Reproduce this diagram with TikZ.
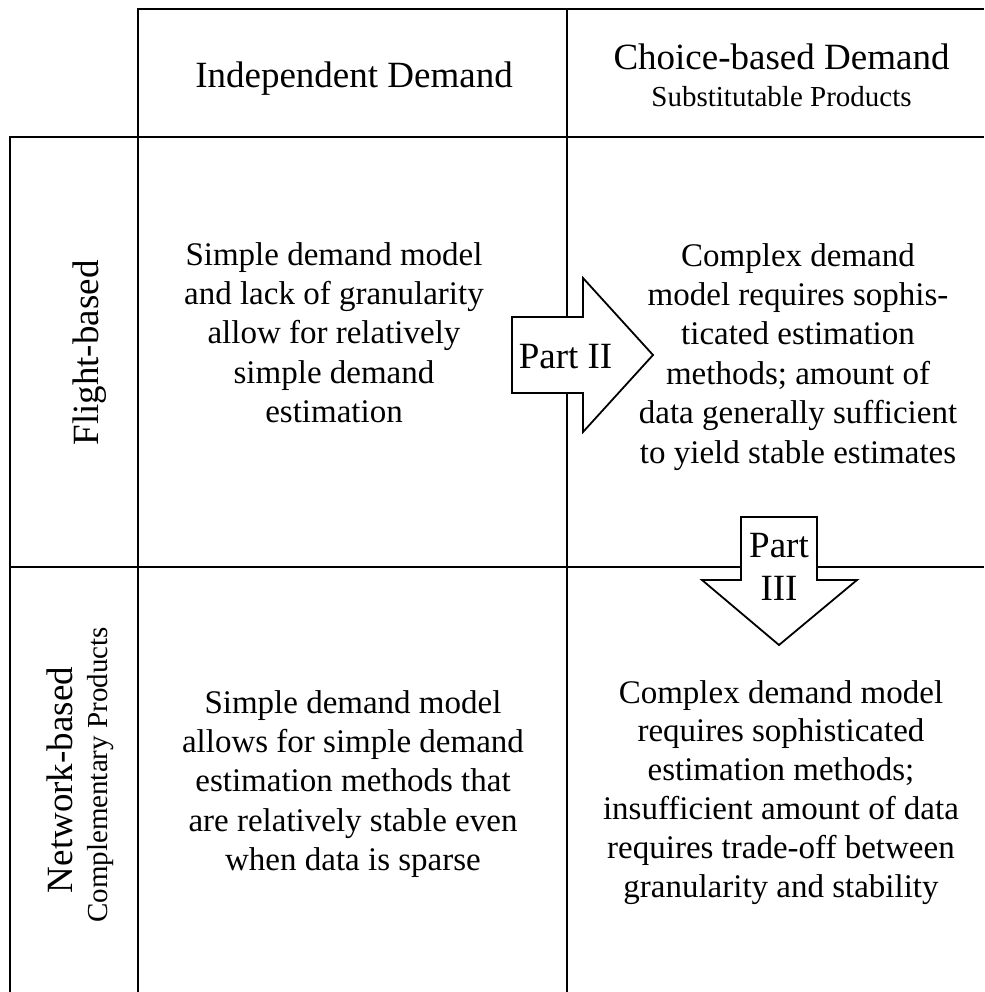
\documentclass[tikz,border=0pt]{standalone}
\usepackage{fontspec}
\setmainfont{Liberation Serif}
\begin{document}
\begin{tikzpicture}[x=1pt,y=-1pt,
  gridline/.style={line width=2.4pt, line join=miter},
  bigarrow/.style={draw, fill=white, line width=1.8pt, line join=miter},
  headtxt/.style={font=\fontsize{37}{44}\selectfont, inner sep=0pt},
  subtxt/.style={font=\fontsize{29}{35}\selectfont, inner sep=0pt},
  bodytxt/.style={font=\fontsize{33}{39.4}\selectfont, inner sep=0pt, align=center, anchor=base}]
\useasboundingbox (0,0) rectangle (984,992);
% grid
\draw[gridline] (138,992) -- (138,9) -- (984,9);
\draw[gridline] (567,992) -- (567,9);
\draw[gridline] (10,992) -- (10,137) -- (984,137);
\draw[gridline] (10,567) -- (984,567);
% arrows
\draw[bigarrow] (512,317) -- (583,317) -- (583,278) -- (653,355) -- (583,432) -- (583,393) -- (512,393) -- cycle;
\draw[bigarrow] (741,517) -- (817,517) -- (817,580) -- (857,580) -- (779,645) -- (702,580) -- (741,580) -- cycle;
% headers
\node[headtxt, anchor=base] (indep) at (354,88) {Independent Demand};
\node[headtxt, anchor=base] (choice) at (781.5,70) {Choice-based Demand};
\node[subtxt, anchor=base] (subst) at (781.5,107) {Substitutable Products};
\node[headtxt, anchor=base, rotate=90] (flight) at (98,353) {Flight-based};
\node[headtxt, anchor=base, rotate=90] (network) at (72,780) {Network-based};
\node[subtxt, anchor=base, rotate=90] (compl) at (107,775) {Complementary Products};
% body (base anchor = baseline of last line)
\node[bodytxt] (c11) at (334,422.6) {Simple demand model\\and lack of granularity\\allow for relatively\\simple demand\\estimation};
\node[bodytxt] (c12) at (798,463) {Complex demand\\model requires sophis-\\ticated estimation\\methods; amount of\\data generally sufficient\\to yield stable estimates};
\node[bodytxt] (c21) at (353,870.6) {Simple demand model\\allows for simple demand\\estimation methods that\\are relatively stable even\\when data is sparse};
\node[bodytxt, font=\fontsize{33}{38.8}\selectfont] (c22) at (781,897) {Complex demand model\\requires sophisticated\\estimation methods;\\insufficient amount of data\\requires trade-off between\\granularity and stability};
% arrow labels
\node[headtxt, anchor=base] (p2) at (565.5,368) {Part II};
\node[headtxt, anchor=base] (p3a) at (779,557) {Part};
\node[headtxt, anchor=base] (p3b) at (779,600) {III};
\end{tikzpicture}
\end{document}
